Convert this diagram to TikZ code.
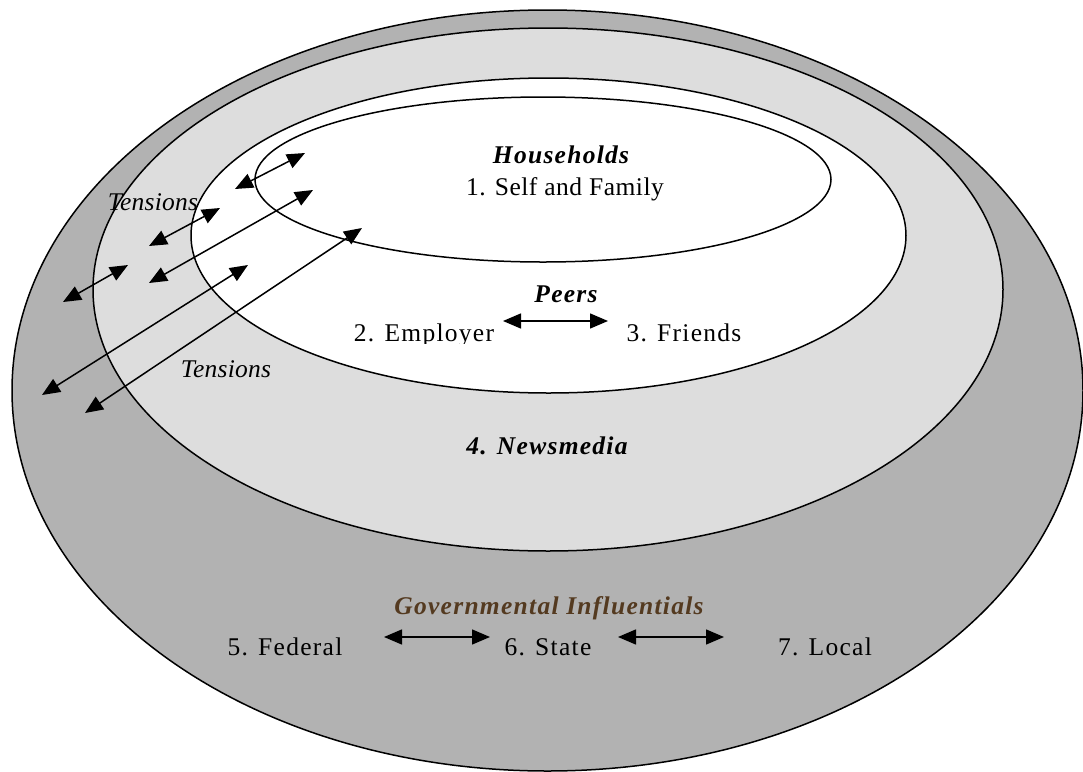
\documentclass[tikz,border=0pt]{standalone}
\usepackage{fontspec}
\setmainfont{Liberation Serif}[LetterSpace=5]
\newfontfamily\tensfont{Liberation Serif}[LetterSpace=1]
\newfontfamily\tightfont{Liberation Serif}[LetterSpace=2]
\usetikzlibrary{arrows.meta}
\definecolor{outergray}{RGB}{178,178,178}
\definecolor{midgray}{RGB}{221,221,221}
\definecolor{govbrown}{RGB}{84,58,32}
\tikzset{
  ring/.style={draw=black, line width=0.75pt},
  lbl/.style={font=\fontsize{12.75}{15}\selectfont, inner sep=0pt, anchor=base, text=black},
  head/.style={font=\fontsize{12.75}{15}\selectfont\bfseries\itshape, inner sep=0pt, anchor=base},
  tens/.style={font=\fontsize{12.75}{15}\selectfont\tensfont\itshape, inner sep=0pt, anchor=base},
  dbl/.style={{Triangle[length=9pt,width=7.5pt]}-{Triangle[length=9pt,width=7.5pt]}, line width=0.75pt, black}
}
\begin{document}
\begin{tikzpicture}[x=0.5pt,y=-0.5pt]
\useasboundingbox (0,0) rectangle (1083,772);
% rings
\fill[white] (0,0) rectangle (1083,772);
\draw[ring, fill=outergray] (547.5,390.5) ellipse [x radius=267.75pt, y radius=190.25pt];
\draw[ring, fill=midgray] (548,289.5) ellipse [x radius=227.5pt, y radius=130.75pt];
\draw[ring, fill=white] (548.5,235.5) ellipse [x radius=178.75pt, y radius=78.75pt];
\draw[ring, fill=white] (543,179.5) ellipse [x radius=144pt, y radius=41.25pt];

% texts
\node[head] (hh) at (561,163) {Households};
\node[lbl, font=\fontsize{12.75}{15}\selectfont\tightfont] (self) at (565,195) {1. Self and Family};
\node[head] (peers) at (566,302) {Peers};
\begin{scope}
\clip (330,300) rectangle (520,343);
\node[lbl] (emp) at (424,341) {2. Employer};
\end{scope}
\node[lbl] (fri) at (684,341) {3. Friends};
\node[tens] (t1) at (153,210) {Tensions};
\node[tens] (t2) at (226,377) {Tensions};
\node[head] (news) at (547,454) {4. Newsmedia};
\node[head, text=govbrown] (gov) at (549,614) {Governmental Influentials};
\node[lbl] (fed) at (285,655) {5. Federal};
\node[lbl] (state) at (548,655) {6. State};
\node[lbl] (loc) at (825,655) {7. Local};

% peers and government arrows
\coordinate (p1) at (503,321);
\coordinate (p2) at (608,321);
\draw[dbl] (p1) -- (p2);
\coordinate (g1) at (384,637);
\coordinate (g2) at (490,637);
\draw[dbl] (g1) -- (g2);
\coordinate (g3) at (618,637);
\coordinate (g4) at (724,637);
\draw[dbl] (g3) -- (g4);

% tension arrows
\coordinate (a1) at (235,189); \coordinate (a2) at (305,153);
\coordinate (b1) at (149,246); \coordinate (b2) at (220,208);
\coordinate (c1) at (149,283); \coordinate (c2) at (313,190);
\coordinate (d1) at (63,302);  \coordinate (d2) at (128,265);
\coordinate (e1) at (42,395);  \coordinate (e2) at (248,265);
\coordinate (f1) at (85,413);  \coordinate (f2) at (362,228);
\draw[dbl] (a1) -- (a2);
\draw[dbl] (b1) -- (b2);
\draw[dbl] (c1) -- (c2);
\draw[dbl] (d1) -- (d2);
\draw[dbl] (e1) -- (e2);
\draw[dbl] (f1) -- (f2);
\end{tikzpicture}
\end{document}
